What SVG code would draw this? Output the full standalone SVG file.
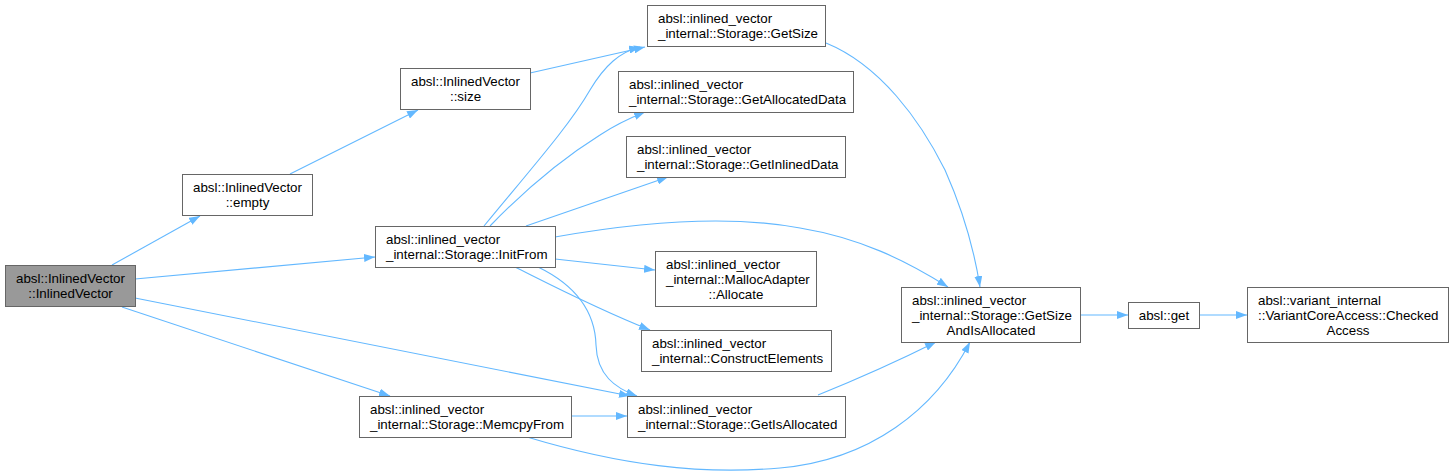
<svg xmlns="http://www.w3.org/2000/svg" width="1454" height="476" viewBox="0 0 1454 476">
<style>
  .box { fill: #ffffff; stroke: #666666; stroke-width: 1; }
  .root { fill: #999999; stroke: #666666; stroke-width: 1; }
  text { font-family: "Liberation Sans", Arial, sans-serif; font-size: 13.33px; fill: #000000; }
  .c { text-anchor: middle; }
  .edge { fill: none; stroke: #63b8ff; stroke-width: 1.1; marker-end: url(#arrow); }
</style>
<defs>
  <marker id="arrow" viewBox="0 0 11 8" refX="11" refY="4" markerWidth="11" markerHeight="8" markerUnits="userSpaceOnUse" orient="auto">
    <path d="M0,0 L11,4 L0,8 z" fill="#63b8ff"/>
  </marker>
</defs>
<rect width="1454" height="476" fill="#ffffff"/>
<g id="connectors">
  <path class="edge" d="M112,265 L200,216"/>
  <path class="edge" d="M135,279 L375,257"/>
  <path class="edge" d="M135,298 L630,396"/>
  <path class="edge" d="M122,307 L390,396"/>
  <path class="edge" d="M290,174 L418,110"/>
  <path class="edge" d="M530,73 L645,47"/>
  <path class="edge" d="M484,226 C530,170 570,125 590,90 C605,65 620,52 640,47"/>
  <path class="edge" d="M490,226 C520,195 560,160 600,135 C615,125 630,118 645,112"/>
  <path class="edge" d="M526,226 L668,177"/>
  <path class="edge" d="M555,237 C640,222 730,215 800,228 C860,238 905,260 948,287"/>
  <path class="edge" d="M555,259 L655,270"/>
  <path class="edge" d="M515,267 C555,287 595,308 650,330"/>
  <path class="edge" d="M538,267 C575,285 595,310 596,345 C597,375 615,388 637,396"/>
  <path class="edge" d="M826,43 C880,65 920,120 945,170 C965,215 975,255 980,287"/>
  <path class="edge" d="M818,395 C860,378 900,360 936,342"/>
  <path class="edge" d="M572,416 L627,416"/>
  <path class="edge" d="M527,437 C620,465 700,475 780,468 C870,460 935,410 970,342"/>
  <path class="edge" d="M1081,315 L1128,315"/>
  <path class="edge" d="M1199,315 L1247,315"/>
</g>
<g id="n0">
  <rect class="root" x="5.5" y="265.5" width="130" height="41"/>
  <text class="c" x="70.5" y="283">absl::InlinedVector</text>
  <text class="c" x="70.5" y="298">::InlinedVector</text>
</g>
<g id="n1">
  <rect class="box" x="182.5" y="174.5" width="130" height="41"/>
  <text class="c" x="247.5" y="192">absl::InlinedVector</text>
  <text class="c" x="247.5" y="207">::empty</text>
</g>
<g id="n2">
  <rect class="box" x="400.5" y="68.5" width="130" height="41"/>
  <text class="c" x="465.5" y="86">absl::InlinedVector</text>
  <text class="c" x="465.5" y="101">::size</text>
</g>
<g id="n3">
  <rect class="box" x="375.5" y="226.5" width="180" height="41"/>
  <text x="386" y="244">absl::inlined_vector</text>
  <text x="386" y="259">_internal::Storage::InitFrom</text>
</g>
<g id="n4">
  <rect class="box" x="359.5" y="396.5" width="212" height="41"/>
  <text x="370" y="414">absl::inlined_vector</text>
  <text x="370" y="429">_internal::Storage::MemcpyFrom</text>
</g>
<g id="n5">
  <rect class="box" x="647.5" y="5.5" width="178" height="41"/>
  <text x="658" y="23">absl::inlined_vector</text>
  <text x="658" y="38">_internal::Storage::GetSize</text>
</g>
<g id="n6">
  <rect class="box" x="618.5" y="71.5" width="235" height="41"/>
  <text x="629" y="89">absl::inlined_vector</text>
  <text x="629" y="104">_internal::Storage::GetAllocatedData</text>
</g>
<g id="n7">
  <rect class="box" x="626.5" y="136.5" width="219" height="41"/>
  <text x="637" y="154">absl::inlined_vector</text>
  <text x="637" y="169">_internal::Storage::GetInlinedData</text>
</g>
<g id="n8">
  <rect class="box" x="655.5" y="251.5" width="161" height="55"/>
  <text x="666" y="269">absl::inlined_vector</text>
  <text x="666" y="284">_internal::MallocAdapter</text>
  <text class="c" x="736" y="299">::Allocate</text>
</g>
<g id="n9">
  <rect class="box" x="641.5" y="330.5" width="190" height="41"/>
  <text x="652" y="348">absl::inlined_vector</text>
  <text x="652" y="363">_internal::ConstructElements</text>
</g>
<g id="n10">
  <rect class="box" x="627.5" y="396.5" width="218" height="41"/>
  <text x="638" y="414">absl::inlined_vector</text>
  <text x="638" y="429">_internal::Storage::GetIsAllocated</text>
</g>
<g id="n11">
  <rect class="box" x="901.5" y="287.5" width="179" height="55"/>
  <text x="912" y="305">absl::inlined_vector</text>
  <text x="912" y="320">_internal::Storage::GetSize</text>
  <text class="c" x="991" y="335">AndIsAllocated</text>
</g>
<g id="n12">
  <rect class="box" x="1128.5" y="302.5" width="71" height="26"/>
  <text class="c" x="1164" y="320">absl::get</text>
</g>
<g id="n13">
  <rect class="box" x="1247.5" y="287.5" width="201" height="55"/>
  <text x="1258" y="305">absl::variant_internal</text>
  <text x="1258" y="320">::VariantCoreAccess::Checked</text>
  <text class="c" x="1348" y="335">Access</text>
</g>
</svg>
